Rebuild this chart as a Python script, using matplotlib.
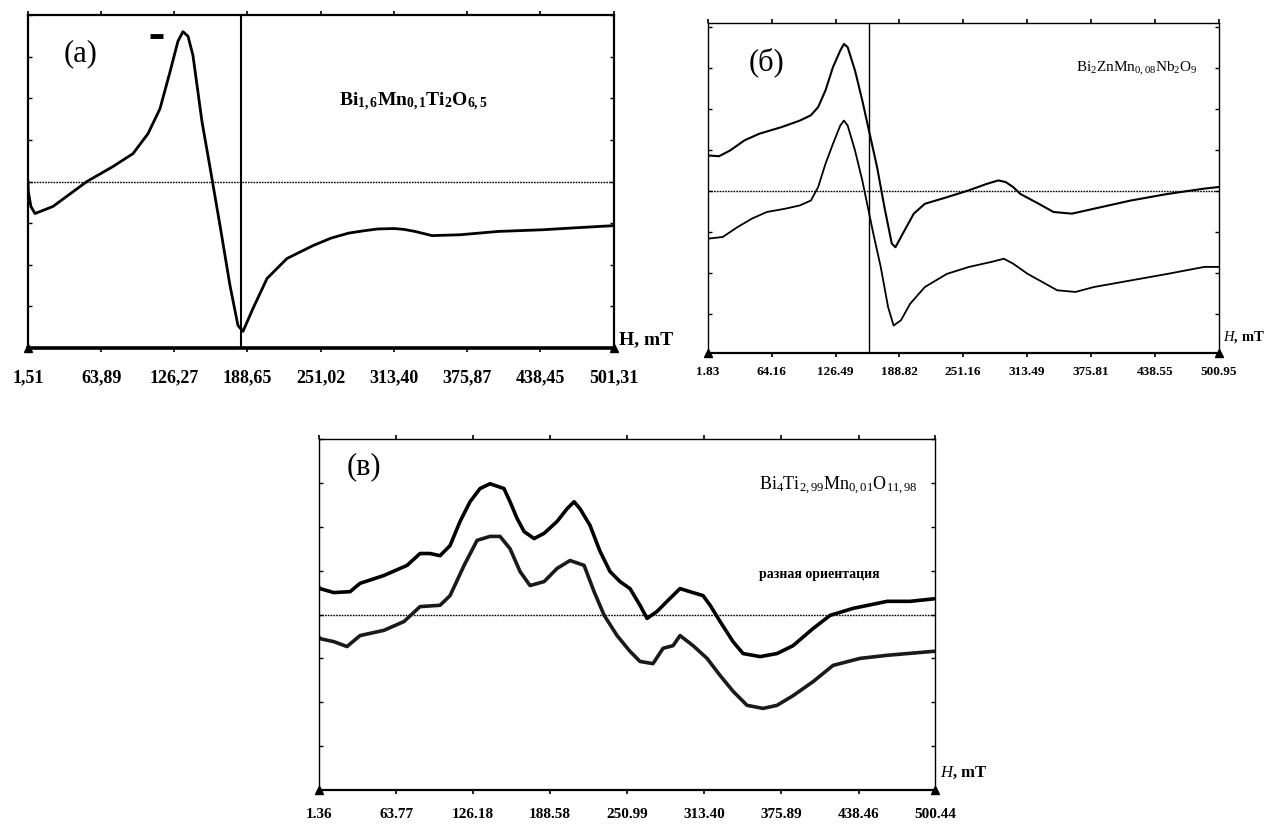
import numpy as np
import matplotlib
matplotlib.use("Agg")
import matplotlib.pyplot as plt

plt.rcParams["font.family"] = ["Liberation Serif", "DejaVu Serif"]
plt.rcParams["mathtext.fontset"] = "custom"
plt.rcParams["mathtext.rm"] = "Liberation Serif"
plt.rcParams["mathtext.bf"] = "Liberation Serif:bold"
plt.rcParams["mathtext.it"] = "Liberation Serif:italic"

# --- panel (a): Bi1.6Mn0.1Ti2O6.5 ---
a_ticks = [1.51, 63.89, 126.27, 188.65, 251.02, 313.40, 375.87, 438.45, 501.31]
a_labels = ["1,51", "63,89", "126,27", "188,65", "251,02", "313,40", "375,87", "438,45", "501,31"]
a_H = [1.51, 1.8, 4.0, 7.5, 22.8, 51.8, 74.0, 91.1, 103.9, 114.1, 122.7, 129.4, 133.7,
       138.0, 142.2, 149.9, 156.7, 165.3, 173.8, 180.6, 184.9, 193.4, 205.4, 222.4,
       244.6, 260, 275, 288.9, 300, 313.7, 322, 331.6, 346.1, 370, 402.4, 440, 470, 501.3]
a_sig = [0.0, -0.24, -0.6, -0.77, -0.6, 0.0, 0.36, 0.67, 1.15, 1.75, 2.64, 3.37, 3.6,
         3.49, 3.03, 1.44, 0.35, -1.06, -2.5, -3.46, -3.6, -3.05, -2.33, -1.85,
         -1.54, -1.36, -1.24, -1.18, -1.14, -1.13, -1.15, -1.2, -1.3, -1.28, -1.2, -1.16,
         -1.11, -1.06]
a_line = 183.5

# --- panel (б): Bi2ZnMn0.08Nb2O9, two traces ---
b_ticks = [1.83, 64.16, 126.49, 188.82, 251.16, 313.49, 375.81, 438.55, 500.95]
b_labels = ["1.83", "64.16", "126.49", "188.82", "251.16", "313.49", "375.81", "438.55", "500.95"]
b_H_up = [1.8, 12.6, 23.4, 37.7, 52.1, 73.6, 91.6, 102.4, 109.5, 116.7, 123.9, 131.1, 134.7,
          138.3, 145.5, 152.6, 159.8, 167.0, 174.2, 181.4, 185.0, 192.1, 202.9, 213.7, 235.2,
          256.8, 274.7, 285.5, 292.7, 299.9, 307.0, 325.0, 339.4, 357.3, 378.9, 414.8, 450.7,
          486.6, 500.9]
b_sig_up = [0.87, 0.85, 0.99, 1.24, 1.40, 1.56, 1.72, 1.85, 2.05, 2.46, 3.02, 3.43, 3.59, 3.51,
            2.94, 2.21, 1.40, 0.59, -0.39, -1.28, -1.37, -1.04, -0.55, -0.31, -0.15, 0.02,
            0.18, 0.26, 0.22, 0.10, -0.07, -0.31, -0.51, -0.55, -0.43, -0.23, -0.07, 0.06, 0.10]
b_H_lo = [1.8, 16.2, 30.6, 44.9, 59.3, 77.2, 91.6, 102.4, 109.5, 116.7, 123.9, 131.1, 134.7,
          138.3, 145.5, 152.6, 158.0, 163.4, 170.6, 177.8, 183.2, 190.4, 199.3, 213.7, 235.2,
          256.8, 278.3, 290.9, 299.9, 314.2, 328.6, 343.0, 360.9, 378.9, 414.8, 450.7, 486.6,
          500.9]
b_sig_lo = [-1.16, -1.12, -0.88, -0.67, -0.51, -0.43, -0.35, -0.23, 0.10, 0.67, 1.15, 1.60,
            1.72, 1.60, 0.99, 0.26, -0.39, -1.04, -1.85, -2.83, -3.28, -3.15, -2.75, -2.34,
            -2.02, -1.85, -1.73, -1.65, -1.77, -2.02, -2.22, -2.42, -2.46, -2.34, -2.18, -2.02,
            -1.85, -1.85]
b_line = 158.7

# --- panel (в): Bi4Ti2.99Mn0.01O11.98, two orientations ---
c_ticks = [1.36, 63.77, 126.18, 188.58, 250.99, 313.40, 375.89, 438.46, 500.44]
c_labels = ["1.36", "63.77", "126.18", "188.58", "250.99", "313.40", "375.89", "438.46", "500.44"]
c_H_up = [1.4, 2.2, 13.3, 26.5, 34.6, 54.0, 72.7, 83.2, 91.3, 99.4, 107.5, 115.6, 123.7,
          131.8, 139.9, 151.2, 156.1, 161.8, 167.5, 175.6, 183.7, 194.2, 202.3, 208.0, 212.8,
          220.9, 229.0, 237.1, 245.2, 253.3, 261.4, 267.1, 275.2, 283.3, 293.8, 301.9, 312.5,
          318.2, 326.3, 336.8, 344.9, 358.7, 372.4, 385.4, 401.6, 415.4, 434.0, 461.6, 480.2,
          500.4]
c_sig_up = [0.62, 0.59, 0.50, 0.52, 0.71, 0.89, 1.12, 1.39, 1.39, 1.34, 1.57, 2.12, 2.57,
            2.87, 2.98, 2.87, 2.57, 2.19, 1.89, 1.73, 1.85, 2.12, 2.41, 2.57, 2.41, 2.03, 1.44,
            0.98, 0.75, 0.59, 0.21, -0.09, 0.07, 0.30, 0.59, 0.52, 0.43, 0.21, -0.16, -0.62,
            -0.89, -0.96, -0.89, -0.71, -0.32, -0.02, 0.14, 0.30, 0.30, 0.36]
c_H_lo = [1.4, 2.2, 13.5, 24.0, 34.6, 54.0, 70.2, 83.2, 99.4, 107.5, 118.9, 129.4, 139.9,
          148.0, 156.1, 164.2, 172.3, 183.7, 194.2, 204.7, 216.1, 224.2, 232.4, 242.8, 253.3,
          261.4, 271.9, 280.1, 288.2, 293.8, 304.4, 315.7, 326.3, 336.8, 348.1, 361.1, 372.4,
          385.4, 401.6, 417.8, 439.7, 461.6, 498.8, 500.4]
c_sig_lo = [-0.52, -0.55, -0.62, -0.73, -0.48, -0.36, -0.16, 0.18, 0.21, 0.43, 1.12, 1.69,
            1.78, 1.78, 1.50, 0.98, 0.66, 0.75, 1.05, 1.23, 1.12, 0.52, -0.02, -0.48, -0.84,
            -1.07, -1.12, -0.77, -0.71, -0.48, -0.71, -1.00, -1.39, -1.75, -2.07, -2.14,
            -2.07, -1.85, -1.53, -1.16, -1.00, -0.93, -0.84, -0.84]


def style_axis(ax, ticks, labels, ylim, lw, bottom_lw, fs, pad, italic_h, hpos):
    ax.set_xlim(ticks[0], ticks[-1])
    ax.set_ylim(*ylim)
    for s in ax.spines.values():
        s.set_linewidth(lw)
    ax.spines["bottom"].set_linewidth(bottom_lw)
    ax.set_xticks(ticks)
    ax.set_xticklabels(labels, fontsize=fs, fontweight="bold")
    ax.set_yticks(range(int(np.ceil(ylim[0])), int(np.floor(ylim[1])) + 1))
    ax.set_yticklabels([])
    ax.tick_params(axis="y", direction="in", length=3, width=1, left=True, right=True)
    ax.tick_params(axis="x", direction="out", length=3, width=1.2, top=True, pad=pad)
    ax.axhline(0, color="black", lw=1.0, ls=(0, (1.2, 0.8)))
    ax.plot([ticks[0], ticks[-1]], [ylim[0], ylim[0]], "^", color="black", ms=6,
            clip_on=False, zorder=5)
    txt = r"$\mathit{H}$, mT" if italic_h else "H, mT"
    ax.text(1.008, hpos, txt, transform=ax.transAxes, fontsize=fs + 1,
            fontweight="bold", ha="left", va="bottom")


fig = plt.figure(figsize=(12.66, 8.25), dpi=100)

# (a)
ax_a = fig.add_axes([0.0221, 0.5782, 0.4629, 0.4036])
style_axis(ax_a, a_ticks, a_labels, (-4, 4), 1.6, 2.6, 13, 12, False, 0.0)
ax_a.plot(a_H, a_sig, color="black", lw=2.0)
ax_a.axvline(a_line, color="black", lw=1.5)
ax_a.plot([105.5, 116.5], [3.5, 3.5], color="black", lw=3.5, solid_capstyle="butt")
ax_a.text(0.06, 0.885, "(a)", transform=ax_a.transAxes, fontsize=22, ha="left", va="center")
ax_a.text(0.53, 0.74, r"$\mathbf{Bi_{1,6}Mn_{0,1}Ti_{2}O_{6,5}}$", transform=ax_a.transAxes,
          fontsize=14, ha="left", va="center")

# (б)
ax_b = fig.add_axes([0.5592, 0.5721, 0.4036, 0.4])
style_axis(ax_b, b_ticks, b_labels, (-3.95, 4.1), 1.0, 1.6, 9.5, 6, True, 0.025)
ax_b.plot(b_H_up, b_sig_up, color="black", lw=1.5)
ax_b.plot(b_H_lo, b_sig_lo, color="black", lw=1.3)
ax_b.axvline(b_line, color="black", lw=1.0)
ax_b.text(0.08, 0.88, "(б)", transform=ax_b.transAxes, fontsize=22, ha="left", va="center")
ax_b.text(0.72, 0.86, r"$\mathrm{Bi_{2}ZnMn_{0,08}Nb_{2}O_{9}}$", transform=ax_b.transAxes,
          fontsize=11, ha="left", va="center")

# (в)
ax_c = fig.add_axes([0.2520, 0.0424, 0.4866, 0.4255])
style_axis(ax_c, c_ticks, c_labels, (-4, 4), 1.0, 1.6, 11, 10, True, 0.025)
ax_c.plot(c_H_up, c_sig_up, color="black", lw=2.6)
ax_c.plot(c_H_lo, c_sig_lo, color="#1a1a1a", lw=2.6)
ax_c.text(0.045, 0.92, "(в)", transform=ax_c.transAxes, fontsize=22, ha="left", va="center")
ax_c.text(0.715, 0.865, r"$\mathrm{Bi_{4}Ti_{2,99}Mn_{0,01}O_{11,98}}$", transform=ax_c.transAxes,
          fontsize=13, ha="left", va="center")
ax_c.text(0.715, 0.615, "разная ориентация", transform=ax_c.transAxes, fontsize=10,
          fontweight="bold", ha="left", va="center")

fig.savefig("out.png", dpi=100)
